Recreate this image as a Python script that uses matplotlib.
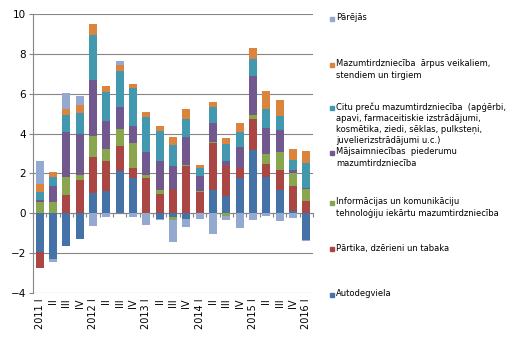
import numpy as np
import matplotlib
matplotlib.use("Agg")
import matplotlib.pyplot as plt
from matplotlib.patches import Rectangle

# quarters 2011 I .. 2016 I
quarters = ["2011 I", "II", "III", "IV", "2012 I", "II", "III", "IV",
            "2013 I", "II", "III", "IV", "2014 I", "II", "III", "IV",
            "2015 I", "II", "III", "IV", "2016 I"]

autodegviela = [-1.95, -2.30, -1.66, -1.29, 1.01, 1.12, 2.13, 1.76, 0.0, -0.29, -0.20,
                -0.29, 0.0, 1.16, 0.86, 1.76, 3.17, 1.83, 1.16, 0.12, -1.34]
partika = [-0.80, 0.0, 0.91, 1.66, 1.83, 1.50, 1.23, 0.52, 1.76, 0.97, 1.19,
           2.38, 1.06, 2.38, 1.51, 0.51, 1.56, 0.64, 1.00, 1.26, 0.60]
ikt = [0.55, 0.55, 0.90, 0.27, 1.04, 0.60, 0.87, 1.26, 0.17, 0.20, -0.12,
       0.05, 0.06, 0.05, -0.13, 0.0, 0.22, 0.50, 0.93, 0.65, 0.62]
majsaimn = [0.10, 0.81, 2.27, 2.03, 2.81, 1.41, 1.11, 0.84, 1.14, 1.45, 1.18,
            1.41, 0.74, 0.94, 0.25, 1.07, 1.95, 1.33, 1.09, 0.13, 0.04]
citu = [0.42, 0.47, 0.85, 1.07, 2.29, 1.46, 1.82, 1.91, 1.78, 1.52, 1.05,
        0.91, 0.39, 0.81, 0.84, 0.74, 0.87, 0.95, 0.70, 0.49, 1.26]
arpus = [0.38, 0.23, 0.32, 0.42, 0.53, 0.30, 0.31, 0.22, 0.23, 0.24, 0.42,
         0.48, 0.17, 0.25, 0.32, 0.45, 0.54, 0.91, 0.81, 0.59, 0.62]
parejas = [1.15, -0.15, 0.79, 0.44, -0.65, -0.20, 0.18, -0.20, -0.60, -0.06, -1.12,
           -0.40, -0.29, -1.04, -0.21, -0.74, -0.34, -0.15, -0.40, -0.23, -0.07]

labels = [
    "Autodegviela",
    "Pārtika, dzērieni un tabaka",
    "Informācijas un komunikāciju\ntehnoloģiju iekārtu mazumtirdzniecība",
    "Mājsaimniecības  piederumu\nmazumtirdzniecība",
    "Citu preču mazumtirdzniecība  (apģērbi,\napavi, farmaceitiskie izstrādājumi,\n"
    "kosmētika, ziedi, sēklas, pulksteņi,\njuvelierizstrādājumi u.c.)",
    "Mazumtirdzniecība  ārpus veikaliem,\nstendiem un tirgiem",
    "Pārējās",
]
series = [autodegviela, partika, ikt, majsaimn, citu, arpus, parejas]
colors = ["#4572A7", "#AA4643", "#89A54E", "#71588F", "#4198AF", "#DB843D", "#93A9CF"]

fig = plt.figure(figsize=(5.28, 3.46), dpi=100)
ax = fig.add_axes([33 / 528, 1 - 292.7 / 346, 280 / 528, 278.4 / 346])

x = np.arange(len(quarters))
pos = np.zeros(len(x))
neg = np.zeros(len(x))
for vals, col in zip(series, colors):
    v = np.array(vals)
    bottom = np.where(v >= 0, pos, neg)
    ax.bar(x, v, 0.6, bottom=bottom, color=col, zorder=3)
    pos += np.where(v > 0, v, 0)
    neg += np.where(v < 0, v, 0)

ax.set_xlim(-0.5, len(x) - 0.5)
ax.set_ylim(-4, 10)
ax.set_yticks(np.arange(-4, 11, 2))
ax.yaxis.grid(True, color="#868686", linewidth=0.8, zorder=0)
for s in ["top", "right", "bottom"]:
    ax.spines[s].set_visible(False)
ax.spines["left"].set_color("#868686")
ax.tick_params(axis="y", labelsize=7.5, length=3, color="#868686", pad=2)
ax.set_xticks(x)
ax.set_xticklabels(quarters, rotation=90, fontsize=7)
ax.tick_params(axis="x", length=0, pad=4)

# category axis line crossing at zero
sec = ax.secondary_xaxis(4 / 14)
sec.set_xticks(np.arange(-0.5, len(x), 1))
sec.tick_params(length=3, color="#868686", labelbottom=False)
sec.spines["bottom"].set_color("#868686")

# legend entries (top to bottom), y = centre of first line in pixels
leg_y = [19, 65, 108, 153, 203, 249, 295]
for i, k in enumerate(range(len(series) - 1, -1, -1)):
    y = 1 - leg_y[i] / 346
    fig.patches.append(Rectangle((330 / 528, y - 2 / 346), 4 / 528, 4 / 346,
                                 transform=fig.transFigure, color=colors[k]))
    fig.text(336 / 528, y + 5.5 / 346, labels[k], fontsize=6, va="top", ha="left",
             linespacing=1.3)

fig.savefig("out.png", dpi=100)
